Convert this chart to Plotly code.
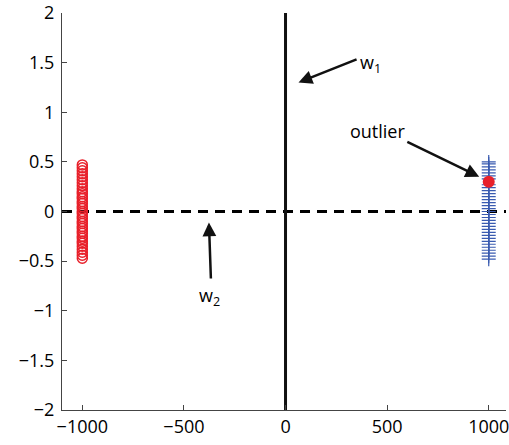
import plotly.graph_objects as go

# data
red_x = -1000
red_y = [-0.47, -0.44, -0.41, -0.38, -0.35, -0.32, -0.3, -0.27, -0.25, -0.22, -0.2, -0.17,
         -0.15, -0.12, -0.1, -0.07, -0.05, -0.02, 0.0, 0.03, 0.05, 0.08, 0.1, 0.13, 0.15,
         0.18, 0.2, 0.23, 0.26, 0.29, 0.32, 0.35, 0.38, 0.41, 0.44, 0.47]
blue_x = 1000
blue_y = [-0.48, -0.45, -0.42, -0.39, -0.36, -0.33, -0.3, -0.27, -0.24, -0.21, -0.18, -0.15,
          -0.12, -0.09, -0.06, -0.03, 0.0, 0.03, 0.06, 0.09, 0.12, 0.15, 0.18, 0.21, 0.24,
          0.27, 0.33, 0.36, 0.39, 0.42, 0.45, 0.48, 0.5]
outlier = (1000, 0.3)
x_ticks = [-1000, -500, 0, 500, 1000]
y_ticks = [-2, -1.5, -1, -0.5, 0, 0.5, 1, 1.5, 2]
x_range = [-1100, 1085]
y_range = [-2, 2.0005]

fig = go.Figure()
# dashed w2 line
fig.add_trace(go.Scatter(x=[-1100, 1100], y=[0, 0], mode="lines",
                         line=dict(color="black", width=3, dash="10px,7px")))
# w1 line
fig.add_trace(go.Scatter(x=[0, 0], y=[-2, 2], mode="lines",
                         line=dict(color="#111", width=3)))
fig.add_trace(go.Scatter(x=[red_x] * len(red_y), y=red_y, mode="markers",
                         marker=dict(symbol="circle-open", size=10, color="#e8202a",
                                     line=dict(width=1.5, color="#e8202a"))))
fig.add_trace(go.Scatter(x=[blue_x] * len(blue_y), y=blue_y, mode="markers",
                         marker=dict(symbol="cross-thin-open", size=10, color="#3a5bb0",
                                     line=dict(width=1.2, color="#3a5bb0"))))
fig.add_trace(go.Scatter(x=[outlier[0]], y=[outlier[1]], mode="markers",
                         marker=dict(symbol="circle", size=12, color="#e8202a")))

font_ann = dict(family="Open Sans", size=18, color="black")
arrows = [
    ((64, 1.30), (357, 1.54)),
    ((-377, -0.11), (-367, -0.69)),
    ((953, 0.35), (592, 0.71)),
]
for (hx, hy), (tx, ty) in arrows:
    fig.add_annotation(x=hx, y=hy, ax=tx, ay=ty, axref="x", ayref="y", xref="x", yref="y",
                       text="", showarrow=True, arrowhead=2, arrowsize=1.1, arrowwidth=2.5,
                       arrowcolor="#111")
fig.add_annotation(x=420, y=1.49, text="w<sub>1</sub>", showarrow=False, font=font_ann)
fig.add_annotation(x=-372, y=-0.86, text="w<sub>2</sub>", showarrow=False, font=font_ann)
fig.add_annotation(x=455, y=0.81, text="outlier", showarrow=False, font=font_ann)

axis_common = dict(showgrid=False, zeroline=False, showline=True, linecolor="#444",
                   linewidth=1, ticks="inside", ticklen=5, tickcolor="#444",
                   ticklabeloverflow="allow",
                   tickfont=dict(family="Open Sans", size=18, color="black"))
fig.update_xaxes(range=x_range, tickvals=x_ticks, **axis_common)
fig.update_yaxes(range=y_range, tickvals=y_ticks, ticklabelstandoff=3, **axis_common)
fig.update_layout(width=509, height=445, margin=dict(l=62, r=0, t=12, b=35),
                  plot_bgcolor="white", paper_bgcolor="white", showlegend=False)
fig.write_html("out.html")
